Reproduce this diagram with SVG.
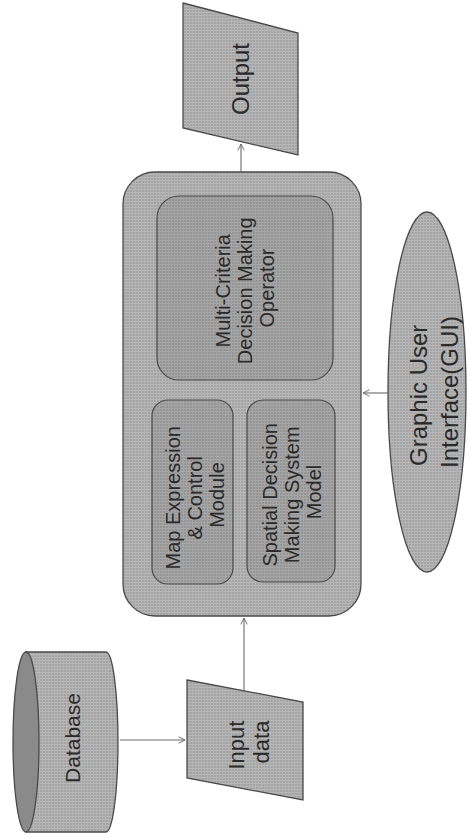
<svg xmlns="http://www.w3.org/2000/svg" width="470" height="838" viewBox="0 0 470 838">
  <defs>
    <!-- halftone-like screen used on every shape -->
    <pattern id="screen" width="3" height="3" patternUnits="userSpaceOnUse">
      <rect width="3" height="3" fill="#a4a4a4"/>
      <rect width="3" height="1" fill="#b8b8b8"/>
      <rect width="1" height="3" fill="#b4b4b4"/>
    </pattern>
    <pattern id="screenDark" width="3" height="3" patternUnits="userSpaceOnUse">
      <rect width="3" height="3" fill="#959595"/>
      <rect width="3" height="1" fill="#a8a8a8"/>
      <rect width="1" height="3" fill="#a4a4a4"/>
    </pattern>
    <marker id="arrow" viewBox="0 0 10 10" refX="9" refY="5" markerWidth="8" markerHeight="8" orient="auto" markerUnits="userSpaceOnUse">
      <path d="M1,1 L9,5 L1,9" fill="none" stroke="#6a6a6a" stroke-width="1.2"/>
    </marker>
  </defs>
  <style>
    .shape { fill: url(#screen); stroke: #4a4a4a; stroke-width: 1.3; }
    .inner { fill: url(#screenDark); stroke: #4a4a4a; stroke-width: 1.2; }
    .face { fill: #8a8a8a; stroke: #4a4a4a; stroke-width: 1.3; }
    .lbl { font-family: "Liberation Sans", Arial, sans-serif; fill: #2a2a2a; text-anchor: middle; }
    .conn { stroke: #6a6a6a; stroke-width: 1.1; fill: none; marker-end: url(#arrow); }
  </style>

  <rect width="470" height="838" fill="#ffffff"/>

  <!-- Output -->
  <g id="output">
    <polygon class="shape" points="183,3 298,33 298,155 183,128"/>
    <text class="lbl" font-size="24" transform="translate(241,79) rotate(-90)" y="8">Output</text>
  </g>

  <!-- Main processing block -->
  <g id="system">
    <rect class="shape" x="123" y="172" width="238" height="444" rx="32"/>
  </g>

  <g id="mcdm-operator">
    <rect class="inner" x="157" y="196" width="176" height="184" rx="22"/>
    <text class="lbl" font-size="20" transform="translate(245,288) rotate(-90)">
      <tspan x="0" y="-15">Multi-Criteria</tspan>
      <tspan x="0" y="7">Decision Making</tspan>
      <tspan x="0" y="29">Operator</tspan>
    </text>
  </g>

  <g id="map-expression">
    <rect class="inner" x="152" y="400" width="81" height="184" rx="16"/>
    <text class="lbl" font-size="20" transform="translate(195,495) rotate(-90)">
      <tspan x="0" y="-15">Map Expression</tspan>
      <tspan x="0" y="7">&amp; Control</tspan>
      <tspan x="0" y="29">Module</tspan>
    </text>
  </g>

  <g id="spatial-model">
    <rect class="inner" x="247" y="400" width="88" height="182" rx="16"/>
    <text class="lbl" font-size="20" transform="translate(292,492) rotate(-90)">
      <tspan x="0" y="-15">Spatial Decision</tspan>
      <tspan x="0" y="7">Making System</tspan>
      <tspan x="0" y="29">Model</tspan>
    </text>
  </g>

  <!-- GUI -->
  <g id="gui">
    <ellipse class="shape" cx="427" cy="392" rx="39" ry="180"/>
    <text class="lbl" font-size="24" transform="translate(434,392) rotate(-90)">
      <tspan x="0" y="-7">Graphic User</tspan>
      <tspan x="0" y="24">Interface(GUI)</tspan>
    </text>
  </g>

  <!-- Input data -->
  <g id="input-data">
    <polygon class="shape" points="187,680 303,702 303,800 187,778"/>
    <text class="lbl" font-size="22" transform="translate(248,742) rotate(-90)">
      <tspan x="0" y="-4">Input</tspan>
      <tspan x="0" y="21">data</tspan>
    </text>
  </g>

  <!-- Database -->
  <g id="database">
    <path class="shape" d="M26,652 L106,652 A12,90 0 0 1 106,832 L26,832 Z"/>
    <ellipse class="face" cx="26" cy="742" rx="13" ry="90"/>
    <text class="lbl" font-size="21" transform="translate(72,738) rotate(-90)" y="8">Database</text>
  </g>

  <!-- Connectors -->
  <g id="connectors">
    <line class="conn" x1="120" y1="740" x2="185" y2="740"/>
    <line class="conn" x1="244" y1="690" x2="244" y2="618"/>
    <line class="conn" x1="388" y1="393" x2="363" y2="393"/>
    <line class="conn" x1="241" y1="172" x2="241" y2="144"/>
  </g>
</svg>
